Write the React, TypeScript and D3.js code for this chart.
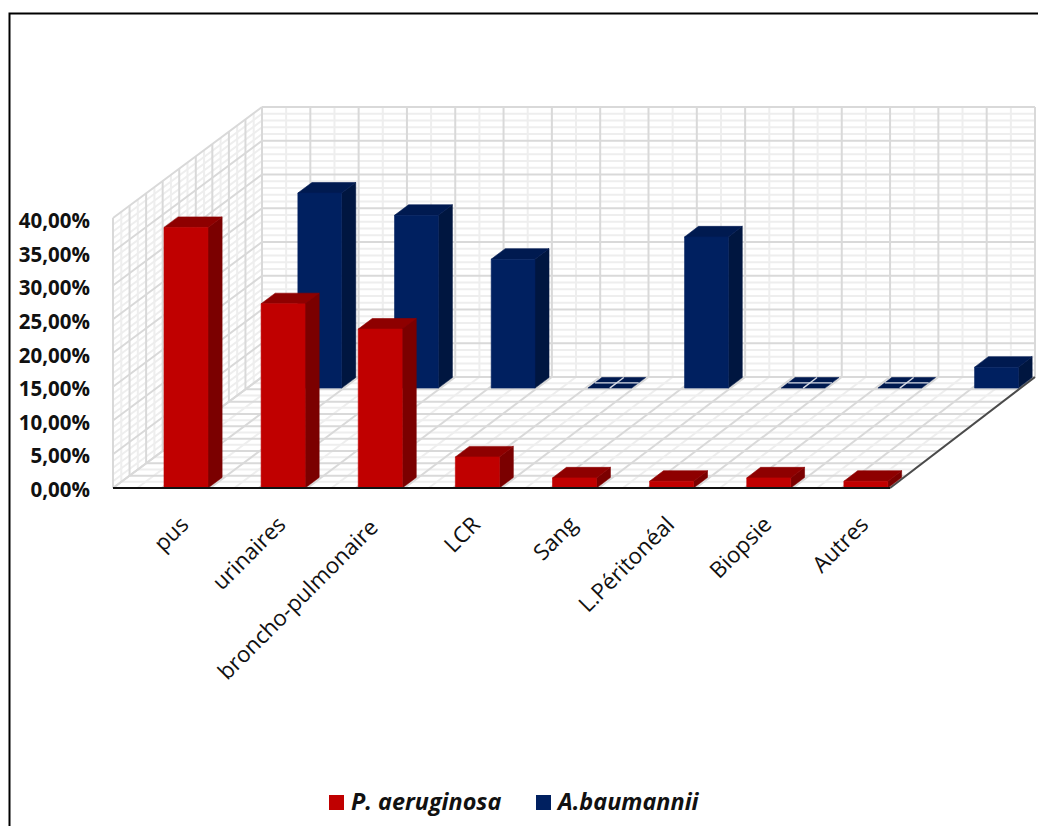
import React from "react";
import * as d3 from "d3";

const categories = ["pus", "urinaires", "broncho-pulmonaire", "LCR", "Sang", "L.Péritonéal", "Biopsie", "Autres"];
const pseudomonas = [38.6, 27.3, 23.55, 4.6, 1.5, 1.0, 1.5, 1.0];
const acinetobacter = [28.9, 25.6, 19.1, 0, 22.4, 0, 0, 3.1];
const yTicks = [0, 5, 10, 15, 20, 25, 30, 35, 40];
const seriesNames = ["P. aeruginosa", "A.baumannii"];
const redShades = { front: "#c00000", top: "#8e0000", side: "#7b0000" };
const blueShades = { front: "#002060", top: "#001a50", side: "#001640" };

const W = 1038;
const H = 826;
const FONT = "'Open Sans', sans-serif";

// Oblique 3D frame: category runs along x, value along y, depth recedes up and to the right.
// The back plane is very slightly narrower than the front plane.
const frontX = d3.scaleLinear().domain([0, 8]).range([113, 890]);
const backX = d3.scaleLinear().domain([0, 8]).range([262, 1035]);
const valueH = d3.scaleLinear().domain([0, 40]).range([0, 270]);
const depthY = d3.scaleLinear().domain([0, 1]).range([0, 111]);
const tickY = d3.scaleLinear().domain([0, 40]).range([490, 221]);
const FLOOR_Y = 488;

const project = (cat: number, value: number, depth: number): [number, number] => [
  frontX(cat) * (1 - depth) + backX(cat) * depth,
  FLOOR_Y - valueH(value) - depthY(depth),
];
const poly = (pts: [number, number][]) => pts.map((p) => p.join(",")).join(" ");
const seg = (a: [number, number], b: [number, number], stroke: string, w: number, key: string) => (
  <line key={key} x1={a[0]} y1={a[1]} x2={b[0]} y2={b[1]} stroke={stroke} strokeWidth={w} />
);

const MAJOR = "#d9d9d9";
const MINOR = "#eeeeee";
const LINE_W = 2;
const DEPTH_STEPS = 9;

function Grid() {
  const minor: React.ReactNode[] = [];
  const major: React.ReactNode[] = [];
  // Value lines on the back wall and side wall
  d3.range(0, 40.01, 1).forEach((v) => {
    const isMajor = v % 5 === 0;
    const out = isMajor ? major : minor;
    out.push(seg(project(0, v, 1), project(8, v, 1), isMajor ? MAJOR : MINOR, LINE_W, `bw${v}`));
    out.push(seg(project(0, v, 0), project(0, v, 1), isMajor ? MAJOR : MINOR, LINE_W, `sw${v}`));
  });
  // Category-direction lines on the back wall and floor
  d3.range(0, 8.01, 0.25).forEach((c) => {
    const isMajor = c * 2 === Math.round(c * 2);
    const out = isMajor ? major : minor;
    out.push(seg(project(c, 0, 1), project(c, 40, 1), isMajor ? MAJOR : MINOR, LINE_W, `bv${c}`));
    out.push(seg(project(c, 0, 0), project(c, 0, 1), isMajor ? MAJOR : MINOR, LINE_W, `fl${c}`));
  });
  // Depth-direction lines on the floor and side wall
  d3.range(0, DEPTH_STEPS * 2 + 1).forEach((k) => {
    const d = k / (DEPTH_STEPS * 2);
    const isMajor = k % 2 === 0;
    const out = isMajor ? major : minor;
    out.push(seg(project(0, 0, d), project(8, 0, d), isMajor ? MAJOR : MINOR, LINE_W, `fh${k}`));
    out.push(seg(project(0, 0, d), project(0, 40, d), isMajor ? MAJOR : MINOR, LINE_W, `sv${k}`));
  });
  return (
    <g>
      {minor}
      {major}
    </g>
  );
}

function Face({ pts, fill }: { pts: [number, number][]; fill: string }) {
  return <polygon points={poly(pts)} fill={fill} stroke={fill} strokeWidth={0.6} strokeLinejoin="round" />;
}

function Bar({ cat, value, depth, shades }: { cat: number; value: number; depth: number; shades: typeof redShades }) {
  const c0 = cat + 0.525;
  const c1 = c0 + 0.453;
  const d0 = depth;
  const d1 = depth + 0.095;
  const top = (
    <Face
      pts={[project(c0, value, d0), project(c1, value, d0), project(c1, value, d1), project(c0, value, d1)]}
      fill={shades.top}
    />
  );
  if (value === 0) {
    // A zero-height column is only a flat tile, crossed by the floor grid
    return (
      <g>
        {top}
        {seg(project((c0 + c1) / 2, 0, d0), project((c0 + c1) / 2, 0, d1), "#d8dce6", 1.4, "cv")}
        {seg(project(c0, 0, (d0 + d1) / 2), project(c1, 0, (d0 + d1) / 2), "#d8dce6", 1.4, "ch")}
      </g>
    );
  }
  return (
    <g>
      <Face
        pts={[project(c1, 0, d0), project(c1, 0, d1), project(c1, value, d1), project(c1, value, d0)]}
        fill={shades.side}
      />
      {top}
      <Face
        pts={[project(c0, 0, d0), project(c1, 0, d0), project(c1, value, d0), project(c0, value, d0)]}
        fill={shades.front}
      />
    </g>
  );
}

export default function App() {
  return (
    <svg width={W} height={H} style={{ position: "absolute", left: 0, top: 0, background: "#fff" }} fontFamily={FONT}>
      {/* Frame: open on the right and at the bottom */}
      <path d={`M9.5 826V13.5H${W}`} fill="none" stroke="#000" strokeWidth={2} />

      <Grid />

      {/* Outer floor edges */}
      {seg(project(8, 0, 0), project(8, 0, 1), "#4a4a4a", 2, "right-edge")}

      {acinetobacter.map((v, i) => (
        <Bar key={`a${i}`} cat={i} value={v} depth={0.9} shades={blueShades} />
      ))}
      {pseudomonas.map((v, i) => (
        <Bar key={`p${i}`} cat={i} value={v} depth={0} shades={redShades} />
      ))}

      {seg(project(0, 0, 0), project(8, 0, 0), "#111", 2.2, "front-axis")}

      {yTicks.map((t) => (
        <text key={t} x={90} y={tickY(t) + 7} textAnchor="end" fontWeight={700} fontSize={20.5} fill="#111">
          {t.toFixed(2).replace(".", ",") + "%"}
        </text>
      ))}

      {categories.map((c, i) => {
        // The longest label sits a little closer to the axis start
        const nudge = c.length > 15 ? -5 : 0;
        return (
          <text
            key={c}
            transform={`translate(${frontX(i) + 77 + nudge},${526 - nudge * 0.6}) rotate(-45)`}
            textAnchor="end"
            fontSize={22.3}
            fill="#111"
          >
            {c}
          </text>
        );
      })}

      {/* Legend */}
      <rect x={329} y={795} width={15} height={15} fill={redShades.front} />
      <text x={351} y={810} fontSize={23.4} fontWeight={700} fontStyle="italic" fill="#111">
        {seriesNames[0]}
      </text>
      <rect x={536} y={795} width={15} height={15} fill={blueShades.front} />
      <text x={558} y={810} fontSize={23.4} fontWeight={700} fontStyle="italic" fill="#111">
        {seriesNames[1]}
      </text>
    </svg>
  );
}
